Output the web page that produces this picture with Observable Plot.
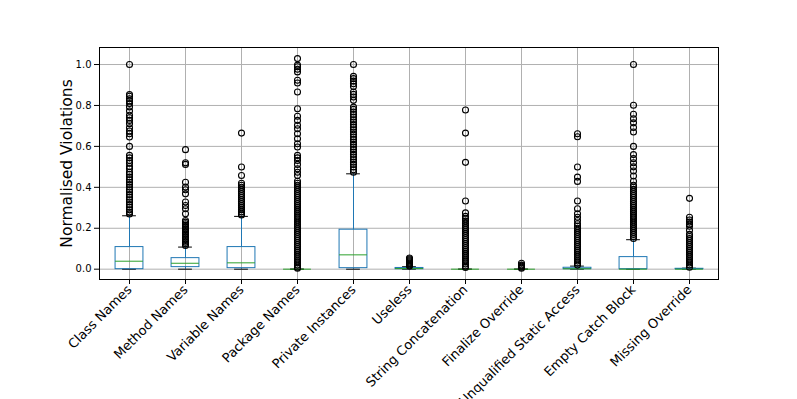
<!DOCTYPE html>
<html>
<head>
<meta charset="utf-8">
<script src="https://cdn.jsdelivr.net/npm/d3@7"></script>
<script src="https://cdn.jsdelivr.net/npm/@observablehq/plot@0.6"></script>
<style>
  html, body { margin: 0; padding: 0; background: white; overflow: hidden; }
</style>
</head>
<body>
<div id="chart"></div>
<script>
const categories = ["Class Names", "Method Names", "Variable Names", "Package Names", "Private Instances", "Useless", "String Concatenation", "Finalize Override", "Unqualified Static Access", "Empty Catch Block", "Missing Override"];
const q1        = [0,     0.010, 0.005, 0, 0.005, 0,     0, 0, 0,     0,     0];
const medians   = [0.039, 0.029, 0.031, 0, 0.070, 0.003, 0, 0, 0.002, 0,     0];
const q3        = [0.108, 0.054, 0.108, 0, 0.193, 0.006, 0, 0, 0.007, 0.059, 0.002];
const whiskerLo = [0,     0,     0,     0, 0,     0,     0, 0, 0,     0,     0];
const whiskerHi = [0.261, 0.108, 0.258, 0, 0.466, 0.012, 0, 0, 0.015, 0.144, 0.005];
const yTicks = [0, 0.2, 0.4, 0.6, 0.8, 1.0];

const outClass = [1.0, 0.853, 0.845, 0.833, 0.822, 0.809, 0.793, 0.773, 0.752, 0.74, 0.727, 0.711, 0.691, 0.675, 0.662, 0.646, 0.6, 0.556, 0.544, 0.531, 0.518, 0.502, 0.491, 0.474, 0.463, 0.45, 0.437, 0.425, 0.414, 0.401, 0.388, 0.377, 0.365, 0.352, 0.339, 0.328, 0.316, 0.303, 0.29, 0.279, 0.27];
const outMethod = [0.584, 0.52, 0.512, 0.425, 0.401, 0.388, 0.368, 0.328, 0.311, 0.295, 0.271, 0.238, 0.23, 0.222, 0.214, 0.205, 0.197, 0.189, 0.181, 0.173, 0.165, 0.156, 0.148, 0.14, 0.132, 0.124, 0.116];
const outVariable = [0.665, 0.499, 0.458, 0.42, 0.41, 0.40, 0.39, 0.38, 0.37, 0.36, 0.35, 0.34, 0.33, 0.32, 0.31, 0.30, 0.29, 0.28, 0.27, 0.265];
const outPackage = [1.029, 0.997, 0.989, 0.977, 0.964, 0.923, 0.91, 0.866, 0.784, 0.747, 0.727, 0.703, 0.686, 0.662, 0.637, 0.613, 0.597, 0.556, 0.544, 0.531, 0.512, 0.491, 0.474, 0.458, 0.43, 0.42, 0.41, 0.40, 0.39, 0.38, 0.37, 0.36, 0.35, 0.34, 0.33, 0.32, 0.31, 0.30, 0.29, 0.28, 0.27, 0.26, 0.25, 0.24, 0.23, 0.22, 0.21, 0.20, 0.19, 0.18, 0.17, 0.16, 0.15, 0.14, 0.13, 0.12, 0.11, 0.10, 0.09, 0.08, 0.07, 0.06, 0.05, 0.04, 0.03, 0.02, 0.01, 0.005];
const outPrivate = [1.0, 0.942, 0.931, 0.919, 0.906, 0.893, 0.866, 0.854, 0.841, 0.825, 0.792, 0.781, 0.768, 0.756, 0.743, 0.73, 0.719, 0.707, 0.694, 0.681, 0.67, 0.659, 0.646, 0.633, 0.621, 0.61, 0.597, 0.584, 0.572, 0.561, 0.548, 0.535, 0.523, 0.512, 0.499, 0.486, 0.474];
const outUseless = [0.055, 0.05, 0.045, 0.04, 0.035, 0.03, 0.025, 0.02, 0.015];
const outString = [0.778, 0.665, 0.522, 0.333, 0.275, 0.258, 0.245, 0.235, 0.225, 0.215, 0.205, 0.195, 0.185, 0.175, 0.165, 0.155, 0.145, 0.135, 0.125, 0.115, 0.105, 0.095, 0.085, 0.075, 0.065, 0.055, 0.045, 0.035, 0.025, 0.015, 0.008];
const outFinalize = [0.029, 0.02, 0.015, 0.01, 0.005];
const outUnqualified = [0.662, 0.647, 0.499, 0.45, 0.429, 0.333, 0.295, 0.271, 0.254, 0.238, 0.222, 0.21, 0.2, 0.19, 0.18, 0.17, 0.16, 0.15, 0.14, 0.13, 0.12, 0.11, 0.10, 0.09, 0.08, 0.07, 0.06, 0.05, 0.04, 0.03, 0.02];
const outEmpty = [1.0, 0.801, 0.757, 0.735, 0.715, 0.692, 0.67, 0.60, 0.56, 0.54, 0.52, 0.50, 0.48, 0.455, 0.43, 0.41, 0.40, 0.39, 0.38, 0.37, 0.36, 0.35, 0.34, 0.33, 0.32, 0.31, 0.30, 0.29, 0.28, 0.27, 0.26, 0.25, 0.24, 0.23, 0.22, 0.21, 0.20, 0.19, 0.18, 0.17, 0.16, 0.15];
const outMissing = [0.346, 0.254, 0.24, 0.23, 0.22, 0.21, 0.19, 0.17, 0.16, 0.15, 0.14, 0.13, 0.12, 0.11, 0.10, 0.09, 0.08, 0.07, 0.06, 0.05, 0.04, 0.03, 0.02, 0.01];
const outliers = [outClass, outMethod, outVariable, outPackage, outPrivate, outUseless, outString, outFinalize, outUnqualified, outEmpty, outMissing];

const stats = categories.map((c, i) => ({c, q1: q1[i], med: medians[i], q3: q3[i], lo: whiskerLo[i], hi: whiskerHi[i]}));
const fliers = categories.flatMap((c, i) => outliers[i].map(v => ({c, v})));

const C0 = "#1f77b4";
const boxInset = 14.07;
const capInset = 21.1;

const chart = Plot.plot({
  width: 797,
  height: 399,
  marginLeft: 99,
  marginRight: 79,
  marginTop: 47,
  marginBottom: 120,
  style: {fontFamily: "'DejaVu Sans', sans-serif", background: "white", color: "black"},
  x: {type: "band", domain: categories, padding: 0, label: null},
  y: {domain: [-0.0504, 1.0832], label: null},
  marks: [
    Plot.gridY(yTicks, {stroke: "#b0b0b0", strokeOpacity: 1, strokeWidth: 1}),
    Plot.gridX(categories, {stroke: "#b0b0b0", strokeOpacity: 1, strokeWidth: 1}),
    Plot.ruleX(stats, {x: "c", y1: "q3", y2: "hi", stroke: C0, strokeWidth: 1}),
    Plot.ruleX(stats, {x: "c", y1: "lo", y2: "q1", stroke: C0, strokeWidth: 1}),
    Plot.tickY(stats, {x: "c", y: "hi", stroke: "black", strokeWidth: 1, insetLeft: capInset, insetRight: capInset}),
    Plot.tickY(stats, {x: "c", y: "lo", stroke: "black", strokeWidth: 1, insetLeft: capInset, insetRight: capInset}),
    Plot.barY(stats, {x: "c", y1: "q1", y2: "q3", fill: "none", stroke: C0, strokeWidth: 1, insetLeft: boxInset, insetRight: boxInset}),
    Plot.tickY(stats, {x: "c", y: "med", stroke: "#2ca02c", strokeWidth: 1, insetLeft: boxInset, insetRight: boxInset}),
    Plot.dot(fliers, {x: "c", y: "v", r: 3, stroke: "black", fill: "none", strokeWidth: 1.1}),
    Plot.frame({stroke: "black", strokeWidth: 1}),
    Plot.axisY(yTicks, {tickFormat: d => d.toFixed(1), tickSize: 5, tickPadding: 3, fontSize: 10, label: null}),
    Plot.axisX({tickRotate: -45, fontSize: 13, tickSize: 5, tickPadding: 3, label: null}),
    Plot.text(["Normalised Violations"], {frameAnchor: "left", rotate: -90, dx: -32, textAnchor: "middle", fontSize: 15.5, fill: "black"})
  ]
});
document.getElementById("chart").appendChild(chart);
</script>
</body>
</html>
